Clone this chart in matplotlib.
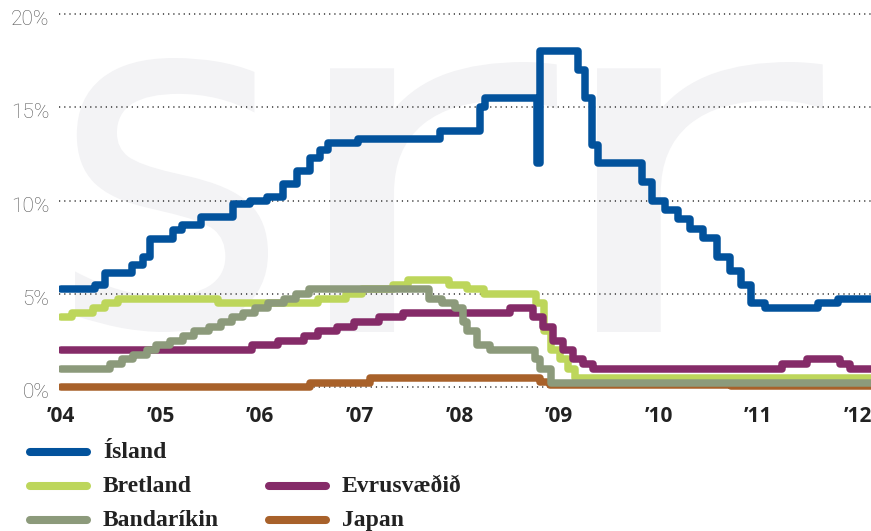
import matplotlib
matplotlib.use('Agg')
import matplotlib.pyplot as plt
from matplotlib.lines import Line2D
from matplotlib.textpath import TextPath
from matplotlib.patches import PathPatch
from matplotlib.transforms import Affine2D
from matplotlib.font_manager import FontProperties

# Stýrivextir 2004-2012, dates as fractional years (step changes)
isl_t = [2004.00, 2004.34, 2004.44, 2004.71, 2004.82, 2004.89, 2005.12, 2005.21, 2005.41,
         2005.73, 2005.90, 2006.07, 2006.23, 2006.37, 2006.50, 2006.60, 2006.68, 2006.98,
         2007.81, 2008.21, 2008.26, 2008.78, 2008.81, 2009.19, 2009.26, 2009.33, 2009.39,
         2009.83, 2009.93, 2010.06, 2010.19, 2010.32, 2010.45, 2010.59, 2010.72, 2010.83,
         2010.93, 2011.07, 2011.60, 2011.80, 2012.20]
isl_v = [5.25, 5.5, 6.1, 6.55, 7.0, 7.95, 8.4, 8.7, 9.1,
         9.8, 10.0, 10.2, 10.9, 11.6, 12.3, 12.7, 13.1, 13.3,
         13.75, 15.0, 15.5, 12.0, 18.0, 17.0, 15.5, 13.0, 12.0,
         11.0, 10.0, 9.5, 9.0, 8.5, 8.0, 7.0, 6.25, 5.5,
         4.5, 4.25, 4.5, 4.75, 4.75]

uk_t = [2004.00, 2004.11, 2004.32, 2004.44, 2004.57, 2005.58, 2006.58, 2006.86, 2007.02,
        2007.33, 2007.48, 2007.90, 2008.08, 2008.25, 2008.77, 2008.85, 2008.92, 2009.01,
        2009.09, 2009.16, 2012.20]
uk_v = [3.75, 4.0, 4.25, 4.5, 4.75, 4.5, 4.75, 5.0, 5.25,
        5.5, 5.75, 5.5, 5.25, 5.0, 4.5, 3.0, 2.0, 1.5,
        1.0, 0.5, 0.5]

eu_t = [2004.00, 2005.92, 2006.18, 2006.44, 2006.58, 2006.77, 2006.94, 2007.19, 2007.43,
        2008.51, 2008.74, 2008.84, 2008.94, 2009.04, 2009.14, 2009.24, 2009.34,
        2011.24, 2011.49, 2011.82, 2011.92, 2012.20]
eu_v = [2.0, 2.25, 2.5, 2.75, 3.0, 3.25, 3.5, 3.75, 4.0,
        4.25, 3.75, 3.25, 2.5, 2.0, 1.5, 1.25, 1.0,
        1.25, 1.5, 1.25, 1.0, 1.0]

us_t = [2004.00, 2004.49, 2004.61, 2004.72, 2004.86, 2004.95, 2005.09, 2005.22, 2005.34,
        2005.49, 2005.61, 2005.72, 2005.83, 2005.95, 2006.08, 2006.24, 2006.36, 2006.49,
        2007.69, 2007.83, 2007.96, 2008.04, 2008.08, 2008.18, 2008.31, 2008.76, 2008.81,
        2008.92, 2012.20]
us_v = [1.0, 1.25, 1.5, 1.75, 2.0, 2.25, 2.5, 2.75, 3.0,
        3.25, 3.5, 3.75, 4.0, 4.25, 4.5, 4.75, 5.0, 5.25,
        4.75, 4.5, 4.25, 3.5, 3.0, 2.25, 2.0, 1.5, 1.0,
        0.25, 0.25]

jp_t = [2004.00, 2006.50, 2007.10, 2008.81, 2008.91, 2010.73, 2012.20]
jp_v = [0.0, 0.25, 0.5, 0.3, 0.1, 0.05, 0.05]

names = ['Ísland', 'Bretland', 'Evrusvæðið', 'Bandaríkin', 'Japan']
colors = ['#02529c', '#bdd65b', '#852b68', '#8c9a7b', '#a8612a']

year_ticks = [2004, 2005, 2006, 2007, 2008, 2009, 2010, 2011, 2012]
year_labels = ['\u201904', '\u201905', '\u201906', '\u201907', '\u201908',
               '\u201909', '\u201910', '\u201911', '\u201912']
pct_ticks = [0, 5, 10, 15, 20]

W, H = 871, 531
fig = plt.figure(figsize=(W / 100, H / 100), dpi=100)
fig.patch.set_facecolor('white')


def watermark(ch, x0, x1, ytop, ybot):
    # faint letter stretched into a pixel box behind the plot
    tp = TextPath((0, 0), ch, size=100, prop=FontProperties(family='DejaVu Sans'))
    bb = tp.get_extents()
    aff = (Affine2D().translate(-bb.x0, -bb.y0)
           .scale((x1 - x0) / bb.width, (ybot - ytop) / bb.height)
           .translate(x0, H - ybot))
    fig.add_artist(PathPatch(tp, transform=aff, facecolor='#f3f3f5',
                             edgecolor='none', zorder=-5))


watermark('s', 75, 268, 58, 332)
watermark('r', 330, 557, 62, 332)
watermark('r', 597, 823, 62, 332)

ax = fig.add_axes([59 / W, (H - 395) / H, 1 - 59 / W, (395 - 10) / H])
ax.patch.set_alpha(0)
ppy = 18.67  # px per percent
ax.set_ylim(-(395 - 387.3) / ppy, (387.3 - 10) / ppy)
ax.set_xlim(2004 - 2 / 99.6, 2004 + (W - 61) / 99.6)
for s in ax.spines.values():
    s.set_visible(False)
ax.set_xticks([])
ax.set_yticks([])

for p in pct_ticks:
    ax.axhline(p, color='#333333', lw=1.1, linestyle=(0, (0.8, 2.6)), zorder=1)
    ax.text(-0.012, p - 0.3, f'{p}%', transform=ax.get_yaxis_transform(),
            ha='right', va='center', fontsize=15, color='#555555',
            family='Roboto', weight='light')

for xt, lab in zip(year_ticks, year_labels):
    ax.text(xt, -0.055, lab, transform=ax.get_xaxis_transform(), ha='center', va='center',
            fontsize=15, fontweight='bold', color='#222222', family='Open Sans')

series = [(jp_t, jp_v, 4), (uk_t, uk_v, 1), (eu_t, eu_v, 2), (us_t, us_v, 3), (isl_t, isl_v, 0)]
lw = 5.4
for order, (t, v, ci) in enumerate(series):
    ax.plot(t, v, drawstyle='steps-post', color=colors[ci], lw=lw,
            solid_joinstyle='round', solid_capstyle='round', zorder=3 + order)

# legend drawn by hand
leg = [(0, 30, 451.5), (1, 30, 486), (3, 30, 519.5), (2, 269, 486), (4, 269, 519.5)]
for i, lx, ly in leg:
    fig.add_artist(Line2D([lx / W, (lx + 57) / W], [1 - ly / H, 1 - ly / H],
                          color=colors[i], lw=lw + 0.4, solid_capstyle='round'))
    fig.text((lx + 73) / W, 1 - (ly + 6.5) / H, names[i], ha='left', va='baseline',
             fontsize=17, fontweight='bold', color='#222222', family='Liberation Serif')

fig.savefig('out.png', dpi=100)
